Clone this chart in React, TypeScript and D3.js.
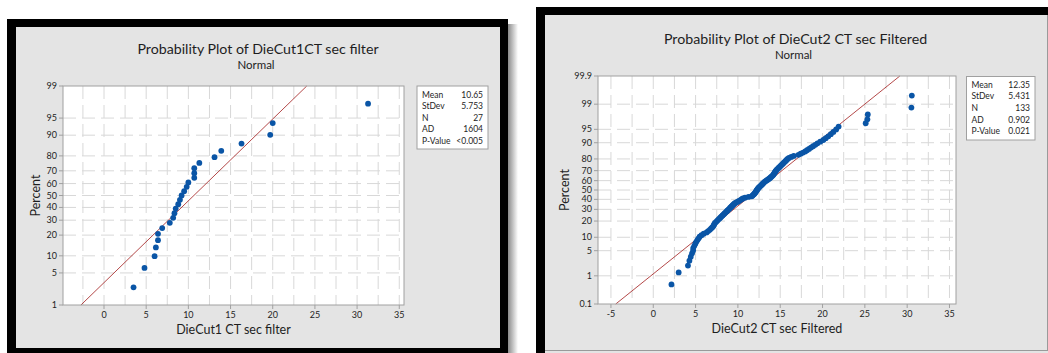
import { useEffect, useRef } from "react";
import * as d3 from "d3";

// DieCut1 CT sec filter (sorted)
const cut1Values = [
  3.5, 4.8, 6.0, 6.15, 6.4, 6.4, 6.9, 7.8, 8.2, 8.35, 8.5, 8.8, 9.0, 9.2,
  9.5, 9.8, 10.0, 10.7, 10.7, 10.7, 11.3, 13.1, 13.9, 16.3, 19.7, 20.0, 31.3,
];
const cut1PctTicks = [1, 5, 10, 20, 30, 40, 50, 60, 70, 80, 90, 95, 99];
const cut1XTicks = [0, 5, 10, 15, 20, 25, 30, 35];
const cut1StatLabels = ["Mean", "StDev", "N", "AD", "P-Value"];
const cut1StatValues = ["10.65", "5.753", "27", "1604", "<0.005"];
const cut1Mean = 10.65;
const cut1StDev = 5.753;

// DieCut2 CT sec Filtered (sorted)
const cut2Values = [
  2.15, 3.0, 4.1, 4.27, 4.43, 4.58, 4.71, 4.72, 4.85, 4.97, 5.08, 5.22, 5.36,
  5.48, 5.7, 5.96, 6.3, 6.49, 6.68, 6.82, 6.96, 7.08, 7.15, 7.21, 7.28, 7.4,
  7.52, 7.63, 7.74, 7.86, 7.97, 8.08, 8.18, 8.29, 8.39, 8.49, 8.59, 8.69,
  8.78, 8.88, 8.98, 9.07, 9.16, 9.25, 9.34, 9.43, 9.52, 9.61, 9.75, 9.93,
  10.08, 10.21, 10.34, 10.46, 10.59, 10.84, 11.25, 11.64, 11.73, 11.81,
  11.89, 11.97, 12.04, 12.09, 12.14, 12.2, 12.25, 12.31, 12.36, 12.43,
  12.51, 12.6, 12.68, 12.77, 12.85, 12.93, 13.01, 13.1, 13.18, 13.31, 13.43,
  13.56, 13.69, 13.8, 13.89, 13.98, 14.07, 14.16, 14.22, 14.28, 14.34, 14.4,
  14.46, 14.53, 14.6, 14.7, 14.8, 14.9, 15.0, 15.1, 15.21, 15.31, 15.42,
  15.53, 15.64, 15.75, 15.87, 16.03, 16.3, 16.6, 17.16, 17.42, 17.7, 17.96,
  18.17, 18.4, 18.63, 18.88, 19.14, 19.4, 19.73, 20.1, 20.38, 20.68, 20.98,
  21.28, 21.61, 21.9, 25.1, 25.3, 25.35, 30.5, 30.55,
];
const cut2PctTicks = [0.1, 1, 5, 10, 20, 30, 40, 50, 60, 70, 80, 90, 95, 99, 99.9];
const cut2XTicks = [-5, 0, 5, 10, 15, 20, 25, 30, 35];
const cut2StatLabels = ["Mean", "StDev", "N", "AD", "P-Value"];
const cut2StatValues = ["12.35", "5.431", "133", "0.902", "0.021"];
const cut2Mean = 12.35;
const cut2StDev = 5.431;

const FONT = "Lato, 'Open Sans', sans-serif";
const TEXT = "#1e1e1e";

// inverse standard normal cdf (Acklam)
function probit(p: number): number {
  const a = [-39.69683028665376, 220.9460984245205, -275.9285104469687, 138.357751867269, -30.66479806614716, 2.506628277459239];
  const b = [-54.47609879822406, 161.5858368580409, -155.6989798598866, 66.80131188771972, -13.28068155288572];
  const c = [-0.007784894002430293, -0.3223964580411365, -2.400758277161838, -2.549732539343734, 4.374664141464968, 2.938163982698783];
  const d = [0.007784695709041462, 0.3224671290700398, 2.445134137142996, 3.754408661907416];
  const pl = 0.02425;
  if (p < pl) {
    const q = Math.sqrt(-2 * Math.log(p));
    return (((((c[0] * q + c[1]) * q + c[2]) * q + c[3]) * q + c[4]) * q + c[5]) /
      ((((d[0] * q + d[1]) * q + d[2]) * q + d[3]) * q + 1);
  }
  if (p > 1 - pl) return -probit(1 - p);
  const q = p - 0.5;
  const r = q * q;
  return ((((((a[0] * r + a[1]) * r + a[2]) * r + a[3]) * r + a[4]) * r + a[5]) * q) /
    (((((b[0] * r + b[1]) * r + b[2]) * r + b[3]) * r + b[4]) * r + 1);
}

type PanelSpec = {
  values: number[];
  pctTicks: number[];
  xTicks: number[];
  statLabels: string[];
  statValues: string[];
  mean: number;
  sd: number;
  xDomain: [number, number];
  plot: { x0: number; y0: number; x1: number; y1: number };
  title: string;
  titlePos: [number, number];
  subPos: [number, number];
  xLabel: string;
  xLabelY: number;
  yLabelX: number;
  legend: { x: number; y: number; w: number; h: number; rowY: number[] };
};

function drawPanel(svg: d3.Selection<SVGSVGElement, unknown, null, undefined>, s: PanelSpec) {
  const { x0, y0, x1, y1 } = s.plot;
  const x = d3.scaleLinear().domain(s.xDomain).range([x0, x1]);
  const pMin = s.pctTicks[0] / 100;
  const pMax = s.pctTicks[s.pctTicks.length - 1] / 100;
  const z = d3.scaleLinear().domain([probit(pMin), probit(pMax)]).range([y1, y0]);
  const y = (pct: number) => z(probit(pct / 100));

  const g = svg.append("g");

  g.append("rect")
    .attr("x", x0).attr("y", y0).attr("width", x1 - x0).attr("height", y1 - y0)
    .attr("fill", "#fff");

  // grid
  const vGrid = d3.range(Math.ceil(s.xDomain[0] / 2.5) * 2.5, s.xDomain[1], 2.5);
  g.selectAll(".vgrid").data(vGrid).join("line")
    .attr("x1", (d) => x(d)).attr("x2", (d) => x(d))
    .attr("y1", y0).attr("y2", y1)
    .attr("stroke", "#d8d8d8").attr("stroke-dasharray", "13,6");
  g.selectAll(".hgrid").data(s.pctTicks.slice(1, -1)).join("line")
    .attr("x1", x0).attr("x2", x1)
    .attr("y1", (d) => y(d)).attr("y2", (d) => y(d))
    .attr("stroke", "#d8d8d8").attr("stroke-dasharray", "13,6");

  // fitted line
  const zLo = probit(pMin), zHi = probit(pMax);
  g.append("line")
    .attr("x1", x(s.mean + zLo * s.sd)).attr("y1", z(zLo))
    .attr("x2", x(s.mean + zHi * s.sd)).attr("y2", z(zHi))
    .attr("stroke", "#ab3434").attr("stroke-width", 0.9);

  // points, median-rank plotting positions
  const n = s.values.length;
  g.selectAll(".pt").data(s.values).join("circle")
    .attr("cx", (d) => x(d))
    .attr("cy", (_d, i) => y(((i + 1 - 0.3) / (n + 0.4)) * 100))
    .attr("r", 2.9)
    .attr("fill", "#0a55a6");

  g.append("rect")
    .attr("x", x0).attr("y", y0).attr("width", x1 - x0).attr("height", y1 - y0)
    .attr("fill", "none").attr("stroke", "#a0a0a0");

  // y ticks
  g.selectAll(".ytick").data(s.pctTicks).join("line")
    .attr("x1", x0 - 4).attr("x2", x0)
    .attr("y1", (d) => y(d)).attr("y2", (d) => y(d))
    .attr("stroke", "#a0a0a0");
  g.selectAll(".ylab").data(s.pctTicks).join("text")
    .attr("x", x0 - 6).attr("y", (d) => y(d) + 3)
    .attr("text-anchor", "end")
    .attr("font-family", FONT).attr("font-size", 9).attr("fill", TEXT)
    .text((d) => String(d));

  // x ticks
  g.selectAll(".xtick").data(s.xTicks).join("line")
    .attr("x1", (d) => x(d)).attr("x2", (d) => x(d))
    .attr("y1", y1).attr("y2", y1 + 4)
    .attr("stroke", "#a0a0a0");
  g.selectAll(".xlab").data(s.xTicks).join("text")
    .attr("x", (d) => x(d)).attr("y", y1 + 13)
    .attr("text-anchor", "middle")
    .attr("font-family", FONT).attr("font-size", 9).attr("fill", TEXT)
    .text((d) => String(d));

  // titles
  g.append("text").attr("x", s.titlePos[0]).attr("y", s.titlePos[1])
    .attr("text-anchor", "middle").attr("font-family", FONT).attr("font-size", 14.2)
    .attr("fill", TEXT).text(s.title);
  g.append("text").attr("x", s.subPos[0]).attr("y", s.subPos[1])
    .attr("text-anchor", "middle").attr("font-family", FONT).attr("font-size", 11.5)
    .attr("fill", TEXT).text("Normal");
  g.append("text").attr("x", (x0 + x1) / 2).attr("y", s.xLabelY)
    .attr("text-anchor", "middle").attr("font-family", FONT).attr("font-size", 12.5)
    .attr("fill", TEXT).text(s.xLabel);
  g.append("text")
    .attr("transform", `translate(${s.yLabelX},${(y0 + y1) / 2}) rotate(-90)`)
    .attr("text-anchor", "middle").attr("font-family", FONT).attr("font-size", 12.5)
    .attr("fill", TEXT).text("Percent");

  // stats box
  const L = s.legend;
  g.append("rect").attr("x", L.x).attr("y", L.y).attr("width", L.w).attr("height", L.h)
    .attr("fill", "#fff").attr("stroke", "#a0a0a0");
  g.selectAll(".slab").data(s.statLabels).join("text")
    .attr("x", L.x + 5).attr("y", (_d, i) => L.rowY[i])
    .attr("font-family", FONT).attr("font-size", 8.5).attr("fill", TEXT)
    .text((d) => d);
  g.selectAll(".sval").data(s.statValues).join("text")
    .attr("x", L.x + L.w - 5).attr("y", (_d, i) => L.rowY[i])
    .attr("text-anchor", "end")
    .attr("font-family", FONT).attr("font-size", 8.5).attr("fill", TEXT)
    .text((d) => d);
}

export default function App() {
  const svgRef = useRef<SVGSVGElement>(null);

  useEffect(() => {
    if (!svgRef.current) return;
    const svg = d3.select(svgRef.current);
    svg.selectAll("*").remove();

    const defs = svg.append("defs");
    const grad = defs.append("linearGradient").attr("id", "shadow");
    grad.append("stop").attr("offset", "0%").attr("stop-color", "#8a8a8a");
    grad.append("stop").attr("offset", "100%").attr("stop-color", "#ffffff");

    svg.append("rect").attr("width", 1048).attr("height", 353).attr("fill", "#fff");

    // left frame
    svg.append("rect").attr("x", 508).attr("y", 24).attr("width", 10).attr("height", 329)
      .attr("fill", "url(#shadow)");
    svg.append("rect").attr("x", 7).attr("y", 19).attr("width", 501).attr("height", 340).attr("fill", "#000");
    svg.append("rect").attr("x", 16).attr("y", 27).attr("width", 484).attr("height", 321).attr("fill", "#e4e4e4");

    // right frame
    svg.append("rect").attr("x", 536).attr("y", 7).attr("width", 512).attr("height", 346).attr("fill", "#000");
    svg.append("rect").attr("x", 545).attr("y", 15).attr("width", 503).attr("height", 338).attr("fill", "#e4e4e4");
    svg.append("line").attr("x1", 1047.5).attr("x2", 1047.5).attr("y1", 15).attr("y2", 351)
      .attr("stroke", "#9a9a9a");
    svg.append("line").attr("x1", 545).attr("x2", 1048).attr("y1", 350.5).attr("y2", 350.5)
      .attr("stroke", "#9a9a9a");

    drawPanel(svg, {
      values: cut1Values,
      pctTicks: cut1PctTicks,
      xTicks: cut1XTicks,
      statLabels: cut1StatLabels,
      statValues: cut1StatValues,
      mean: cut1Mean,
      sd: cut1StDev,
      xDomain: [-4.86, 35.56],
      plot: { x0: 63, y0: 86, x1: 404, y1: 305 },
      title: "Probability Plot of DieCut1CT sec filter",
      titlePos: [258, 53.5],
      subPos: [256, 69],
      xLabel: "DieCut1 CT sec filter",
      xLabelY: 334,
      yLabelX: 40,
      legend: { x: 417, y: 86, w: 71, h: 63, rowY: [97.5, 109, 120.5, 132, 144] },
    });

    drawPanel(svg, {
      values: cut2Values,
      pctTicks: cut2PctTicks,
      xTicks: cut2XTicks,
      statLabels: cut2StatLabels,
      statValues: cut2StatValues,
      mean: cut2Mean,
      sd: cut2StDev,
      xDomain: [-6.53, 35.77],
      plot: { x0: 598, y0: 76, x1: 956, y1: 304 },
      title: "Probability Plot of DieCut2 CT sec Filtered",
      titlePos: [795.5, 44],
      subPos: [793.5, 59],
      xLabel: "DieCut2 CT sec Filtered",
      xLabelY: 332.5,
      yLabelX: 569,
      legend: { x: 966.5, y: 76.5, w: 68.5, h: 63.5, rowY: [87.5, 99, 110.8, 122.5, 134.3] },
    });
  }, []);

  return (
    <svg
      ref={svgRef}
      width={1048}
      height={353}
      style={{ position: "absolute", left: 0, top: 0, display: "block" }}
    />
  );
}
